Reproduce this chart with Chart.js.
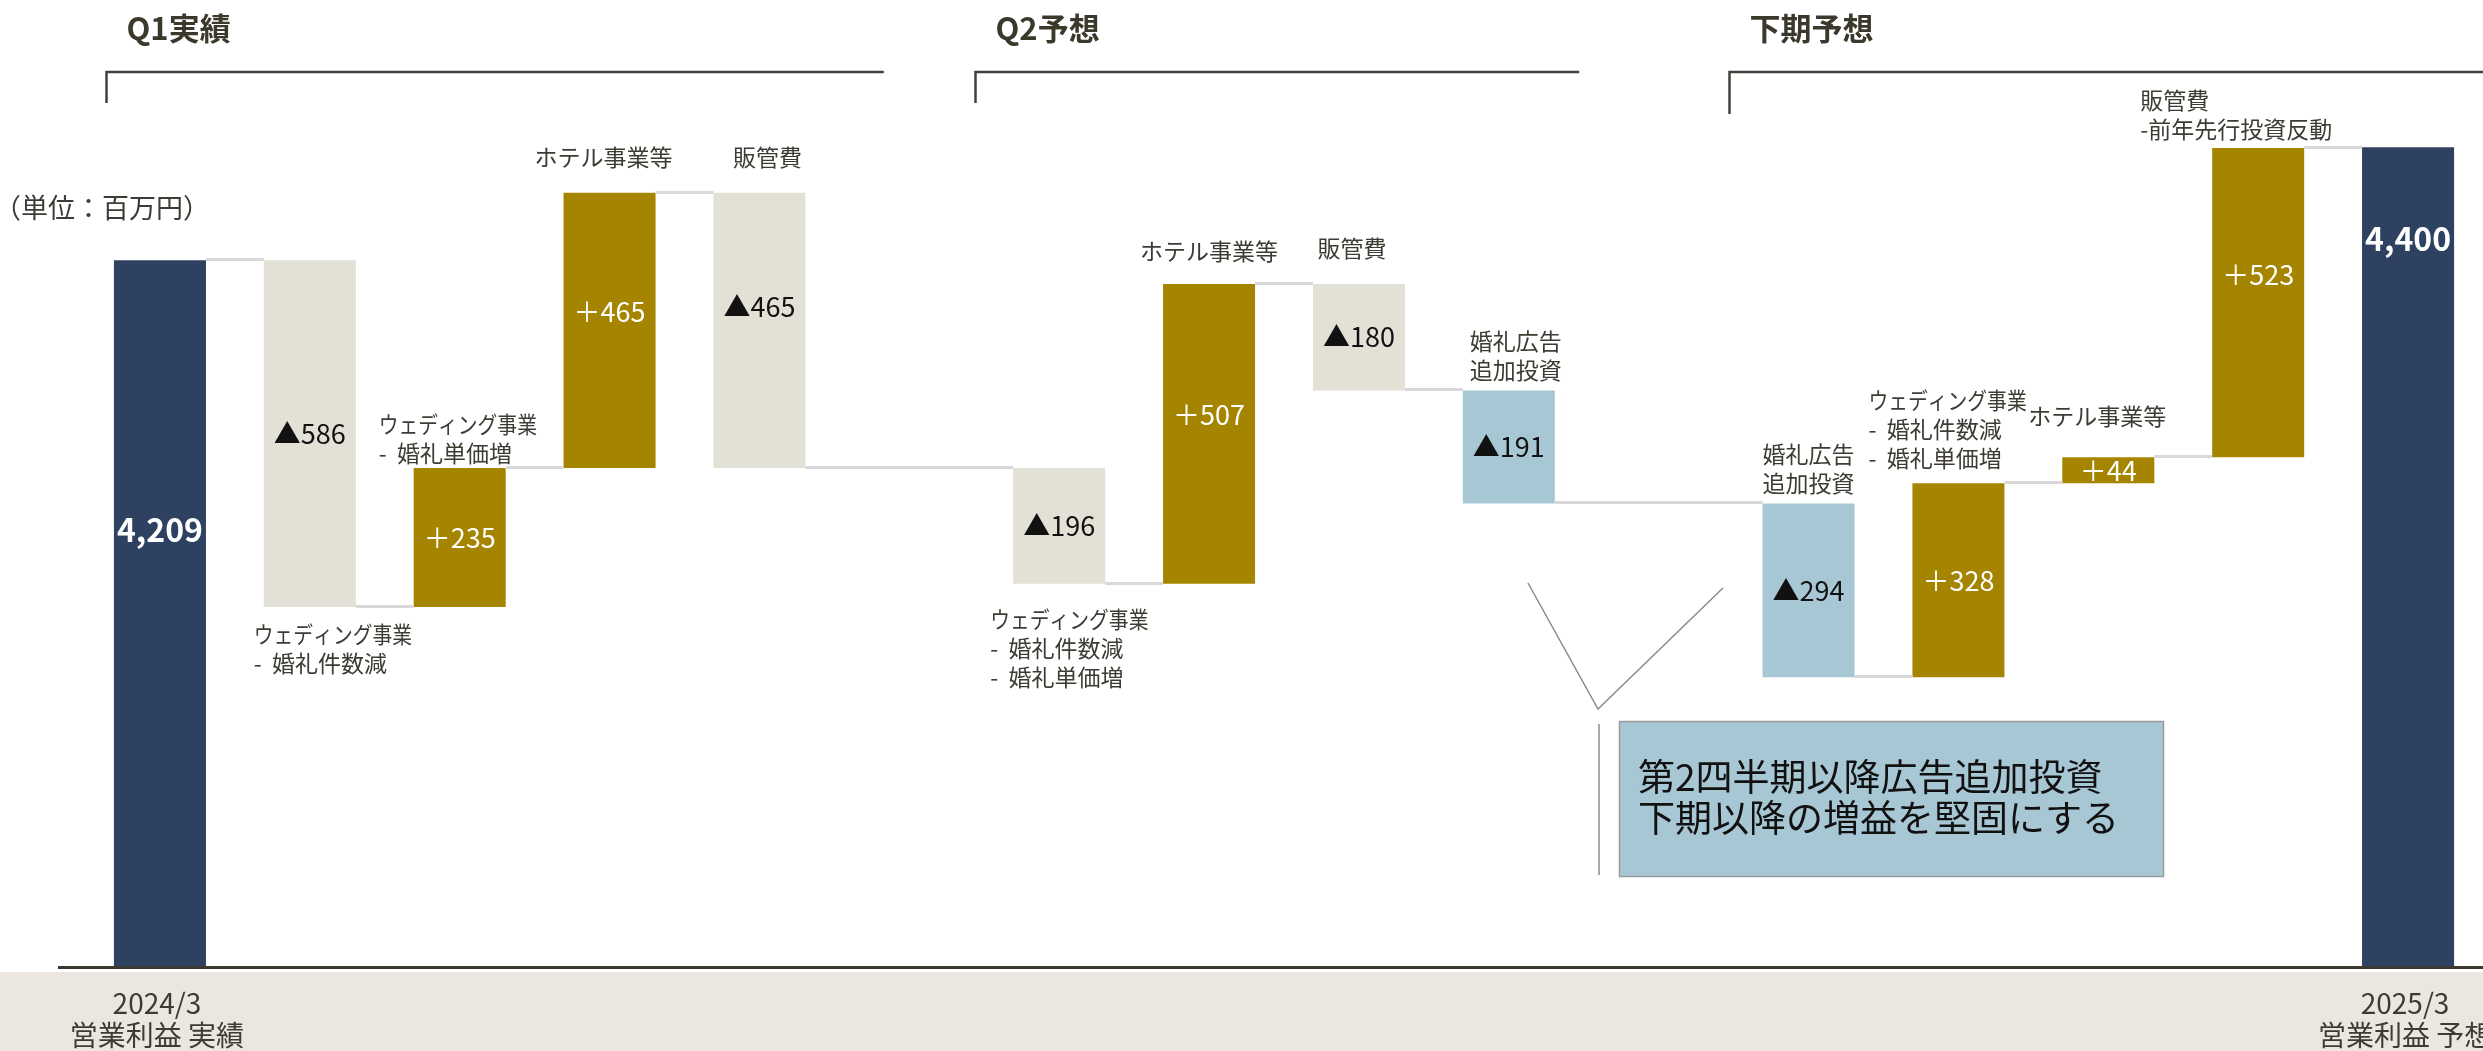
<!DOCTYPE html>
<html lang="ja">
<head>
<meta charset="utf-8">
<title>営業利益 増減要因</title>
<script src="https://cdn.jsdelivr.net/npm/chart.js@4.4.1/dist/chart.umd.min.js"></script>
<style>
  html, body { margin: 0; padding: 0; background: #fff; }
  canvas { display: block; }
</style>
</head>
<body>
<canvas id="bridge" width="2483" height="1051"></canvas>
<script>
// 営業利益ブリッジ 2024/3 実績 → 2025/3 予想（単位：百万円）
const startTotal = 4209;
const endTotal = 4400;

// 16 slots, 'gap' slots separate the periods
const kinds = ['total', 'down', 'up', 'up', 'down', 'gap', 'down', 'up', 'down', 'ad', 'gap', 'ad', 'up', 'up', 'up', 'total'];
const changes = [null, -586, 235, 465, -465, null, -196, 507, -180, -191, null, -294, 328, 44, 523, null];

const tickLabels = [
  ['2024/3', '営業利益 実績'], null, null, null, null, null, null, null,
  null, null, null, null, null, null, null, ['2025/3', '営業利益 予想']
];

const notes = [
  null,
  ['ウェディング事業', '-  婚礼件数減'],
  ['ウェディング事業', '-  婚礼単価増'],
  ['ホテル事業等'],
  ['販管費'],
  null,
  ['ウェディング事業', '-  婚礼件数減', '-  婚礼単価増'],
  ['ホテル事業等'],
  ['販管費'],
  ['婚礼広告', '追加投資'],
  null,
  ['婚礼広告', '追加投資'],
  ['ウェディング事業', '-  婚礼件数減', '-  婚礼単価増'],
  ['ホテル事業等'],
  ['販管費', '-前年先行投資反動'],
  null
];

const periods = ['Q1実績', 'Q2予想', '下期予想'];
const unitLabel = '（単位：百万円）';
const calloutText = ['第2四半期以降広告追加投資', '下期以降の増益を堅固にする'];

// ---- build floating bars from the running total ----
const bars = [];
const levels = [];
let level = startTotal;
kinds.forEach((k, i) => {
  if (k === 'gap') { bars.push(null); levels.push(level); return; }
  if (k === 'total') {
    level = i === 0 ? startTotal : endTotal;
    bars.push(level); levels.push(level); return;
  }
  const next = level + changes[i];
  bars.push([Math.min(level, next), Math.max(level, next)]);
  level = next;
  levels.push(level);
});

const colorOf = { total: '#2e4160', up: '#a58500', down: '#e3e0d6', ad: '#a8c7d5', gap: 'rgba(0,0,0,0)' };
const JP = '"Noto Sans CJK JP", "Noto Sans", sans-serif';
const INK = '#3d3b33';

function valueText(i) {
  if (kinds[i] === 'total') return bars[i].toLocaleString('en-US');
  const c = changes[i];
  return c < 0 ? '▲' + (-c) : '＋' + c;
}

// where each note sits relative to its bar
const notePlace = {
  1: { side: 'below', align: 'left', dx: -10, gap: 27 },
  2: { side: 'above', align: 'left', dx: -35, gap: 15 },
  3: { side: 'above', align: 'center', dx: -6, gap: 36 },
  4: { side: 'above', align: 'center', dx: 8, gap: 36 },
  6: { side: 'below', align: 'left', dx: -23, gap: 35 },
  7: { side: 'above', align: 'center', dx: 0, gap: 33 },
  8: { side: 'above', align: 'center', dx: -7, gap: 36 },
  9: { side: 'above', align: 'center', dx: 7, gap: 20 },
  11: { side: 'above', align: 'center', dx: 0, gap: 20 },
  12: { side: 'above', align: 'left', dx: -44, gap: 25 },
  13: { side: 'above', align: 'center', dx: -11, gap: 41 },
  14: { side: 'above', align: 'left', dx: -72, gap: 19 }
};
// small nudges of the value labels from the bar middle
const labelShift = { 0: -83, 3: -19, 4: -24, 7: -19, 14: -28, 15: -318 };

// period brackets, in slot units
const brackets = [
  { from: -0.36, to: 4.83, drop: 31 },
  { from: 5.44, to: 9.47, drop: 31 },
  { from: 10.47, to: 15.6, drop: 42 }
];

function drawLines(ctx, lines, x, yFirst, lh) {
  lines.forEach((t, k) => {
    const w = ctx.measureText(t).width;
    const squeeze = /[ァィゥェォャュョッ]/.test(t) ? 0.86 : 1;
    ctx.fillText(t, x, yFirst + k * lh, w * squeeze);
  });
}

const bridgePlugin = {
  id: 'bridge',
  beforeDraw(chart) {
    const { ctx, width, height, chartArea } = chart;
    ctx.save();
    ctx.fillStyle = '#ffffff';
    ctx.fillRect(0, 0, width, height);
    ctx.fillStyle = '#ebe7e0';
    ctx.fillRect(0, chartArea.bottom + 6, width, height - chartArea.bottom - 6);
    ctx.restore();
  },
  afterDatasetsDraw(chart) {
    const { ctx, chartArea, scales } = chart;
    const meta = chart.getDatasetMeta(0);
    const yPx = v => scales.y.getPixelForValue(v);
    const xPx = f => scales.x.getPixelForValue(f);
    const span = el => [
      Math.max(Math.min(el.y, el.base), chartArea.top),
      Math.min(Math.max(el.y, el.base), chartArea.bottom)
    ];
    ctx.save();

    // connectors between neighbouring bars
    ctx.strokeStyle = '#d9d9d9';
    ctx.lineWidth = 3;
    for (let i = 0; i < kinds.length; i++) {
      if (kinds[i] === 'gap') continue;
      let j = i + 1;
      while (j < kinds.length && kinds[j] === 'gap') j++;
      if (j >= kinds.length) break;
      const a = meta.data[i], b = meta.data[j];
      const y = Math.round(yPx(levels[i])) - 0.5;
      ctx.beginPath();
      ctx.moveTo(a.x + a.width / 2, y);
      ctx.lineTo(b.x - b.width / 2, y);
      ctx.stroke();
    }

    // value labels
    ctx.textAlign = 'center';
    ctx.textBaseline = 'middle';
    meta.data.forEach((el, i) => {
      if (kinds[i] === 'gap') return;
      const [top, bot] = span(el);
      const y = (top + bot) / 2 + (labelShift[i] || 0);
      if (kinds[i] === 'total') {
        ctx.font = 'bold 32px ' + JP;
        ctx.fillStyle = '#ffffff';
      } else {
        ctx.font = '27px ' + JP;
        ctx.fillStyle = kinds[i] === 'up' ? '#ffffff' : '#111111';
      }
      ctx.fillText(valueText(i), el.x, y, el.width + 2);
    });

    // notes above / below bars
    ctx.font = '23px ' + JP;
    ctx.fillStyle = INK;
    const lh = 29;
    notes.forEach((lines, i) => {
      if (!lines) return;
      const el = meta.data[i];
      const p = notePlace[i];
      const [top, bot] = span(el);
      const yFirst = p.side === 'above' ? top - p.gap - (lines.length - 1) * lh : bot + p.gap;
      let x;
      if (p.align === 'left') { ctx.textAlign = 'left'; x = el.x - el.width / 2 + p.dx; }
      else { ctx.textAlign = 'center'; x = el.x + p.dx; }
      drawLines(ctx, lines, x, yFirst, lh);
    });

    // base line
    ctx.strokeStyle = '#3c3a30';
    ctx.lineWidth = 3;
    ctx.beginPath();
    ctx.moveTo(58, chartArea.bottom + 1.5);
    ctx.lineTo(chart.width, chartArea.bottom + 1.5);
    ctx.stroke();

    // category labels in the band
    ctx.font = '28px ' + JP;
    ctx.fillStyle = INK;
    ctx.textAlign = 'center';
    tickLabels.forEach((lines, i) => {
      if (!lines) return;
      const x = meta.data[i].x - 3;
      ctx.fillText(lines[0], x, chartArea.bottom + 37);
      ctx.fillText(lines[1], x, chartArea.bottom + 69);
    });

    // period titles and brackets
    const by = 72;
    brackets.forEach((b, k) => {
      const x0 = Math.round(xPx(b.from)) + 0.5;
      const x1 = Math.min(xPx(b.to), chart.width);
      ctx.strokeStyle = '#45413a';
      ctx.lineWidth = 2.5;
      ctx.beginPath();
      ctx.moveTo(x0, by + b.drop);
      ctx.lineTo(x0, by);
      ctx.lineTo(x1, by);
      ctx.stroke();
      ctx.font = 'bold 31px ' + JP;
      ctx.fillStyle = '#3b382c';
      ctx.textAlign = 'left';
      ctx.fillText(periods[k], x0 + 20, 28);
    });

    // unit
    ctx.font = '27px ' + JP;
    ctx.fillStyle = INK;
    ctx.textAlign = 'left';
    ctx.fillText(unitLabel, -6, 208);

    // callout for the added advertising spend
    ctx.strokeStyle = '#8c8c8c';
    ctx.lineWidth = 1.5;
    ctx.beginPath();
    ctx.moveTo(1528, 583);
    ctx.lineTo(1598, 709);
    ctx.lineTo(1723, 588);
    ctx.moveTo(1599, 724);
    ctx.lineTo(1599, 875);
    ctx.stroke();
    ctx.fillStyle = '#a8c7d5';
    ctx.fillRect(1619, 721, 544, 155);
    ctx.strokeStyle = '#9a9a9a';
    ctx.strokeRect(1619.5, 721.5, 544, 155);
    ctx.font = '37px ' + JP;
    ctx.fillStyle = '#111111';
    ctx.textAlign = 'left';
    ctx.fillText(calloutText[0], 1638, 777);
    ctx.fillText(calloutText[1], 1638, 818);

    ctx.restore();
  }
};

new Chart(document.getElementById('bridge'), {
  type: 'bar',
  data: {
    labels: kinds.map((k, i) => 'slot' + i),
    datasets: [{
      data: bars,
      backgroundColor: kinds.map(k => colorOf[k]),
      borderWidth: 0,
      barPercentage: 0.614,
      categoryPercentage: 1.0
    }]
  },
  options: {
    responsive: false,
    animation: false,
    devicePixelRatio: 1,
    layout: { padding: { left: 85, right: 0, top: 0, bottom: 85 } },
    plugins: { legend: { display: false }, tooltip: { enabled: false } },
    scales: {
      x: { display: false, grid: { display: false } },
      y: { display: false, min: 3016, max: 4649, grid: { display: false } }
    }
  },
  plugins: [bridgePlugin]
});
</script>
</body>
</html>
